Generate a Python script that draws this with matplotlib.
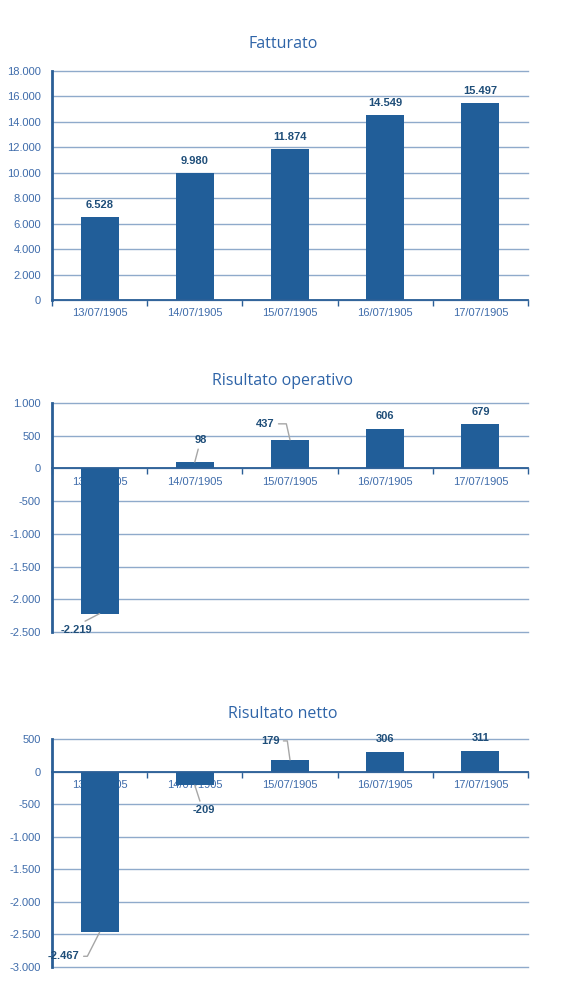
import matplotlib
matplotlib.use("Agg")
import matplotlib.pyplot as plt
from matplotlib.ticker import FuncFormatter, FixedLocator

# data
dates = ['13/07/1905', '14/07/1905', '15/07/1905', '16/07/1905', '17/07/1905']
fatturato = [6528, 9980, 11874, 14549, 15497]
ris_operativo = [-2219, 98, 437, 606, 679]
ris_netto = [-2467, -209, 179, 306, 311]

BAR = '#215E99'
GRID = '#8FAACB'
AXIS = '#2A5E96'
TICK = '#3F6CAB'
LABEL = '#1F4E79'
LEADER = '#A6A6A6'


def it_fmt(v, pos=None):
    s = '{:,.0f}'.format(v).replace(',', '.')
    return s


def draw_chart(ax, values, ylim, step, offsets, leaders):
    x = range(len(values))
    ax.bar(x, values, width=0.4, color=BAR, zorder=2)
    ax.set_xlim(-0.5, len(values) - 0.5)
    ax.set_ylim(*ylim)
    ax.set_axisbelow(True)
    ticks = list(range(ylim[0], ylim[1] + 1, step))
    ax.yaxis.set_major_locator(FixedLocator(ticks))
    ax.yaxis.set_major_formatter(FuncFormatter(it_fmt))
    ax.grid(axis='y', color=GRID, linewidth=1.0)
    for gl in ax.get_ygridlines():
        gl.set_clip_on(False)
    ax.set_xticks(list(x))
    ax.set_xticklabels(dates)
    ax.set_xticks([i - 0.5 for i in range(len(values) + 1)], minor=True)
    ax.tick_params(axis='x', which='major', length=0, pad=6, labelsize=8, labelcolor=TICK)
    ax.tick_params(axis='x', which='minor', length=4, width=1, color=AXIS, direction='out')
    ax.tick_params(axis='y', length=0, pad=8, labelsize=8, labelcolor=TICK)
    for s in ['top', 'right']:
        ax.spines[s].set_visible(False)
    ax.spines['left'].set_color(AXIS)
    ax.spines['left'].set_linewidth(2)
    ax.spines['bottom'].set_color(AXIS)
    ax.spines['bottom'].set_linewidth(1.3)
    ax.spines['bottom'].set_position(('data', 0))
    for lbl in ax.get_yticklabels() + ax.get_xticklabels():
        lbl.set_fontfamily('Liberation Sans')

    for i, v in enumerate(values):
        dx, dy = offsets[i]
        kw = {}
        if leaders[i] is not None:
            relpos, conn = leaders[i]
            kw['arrowprops'] = dict(arrowstyle='-', color=LEADER, lw=1,
                                    shrinkA=1, shrinkB=0, relpos=relpos,
                                    connectionstyle=conn)
        ax.annotate(it_fmt(v), xy=(i, v), xytext=(dx, dy),
                    textcoords='offset pixels', ha='center', va='center',
                    fontsize=8, fontweight='bold', color=LABEL,
                    family='Liberation Sans', zorder=5, **kw)


fig = plt.figure(figsize=(5.79, 10.06), dpi=100)
W, H = 579, 1006


def make_axes(top, bottom):
    return fig.add_axes([52 / W, (H - bottom) / H, 476 / W, (bottom - top) / H])


ax1 = make_axes(71, 300)
ax2 = make_axes(403, 632)
ax3 = make_axes(739, 967)

draw_chart(ax1, fatturato, (0, 18000), 2000,
           [(0, 12)] * 5, [None] * 5)

draw_chart(ax2, ris_operativo, (-2500, 1000), 500,
           [(-23, -16), (6, 22), (-25, 16), (0, 13), (0, 12.5)],
           [((0.5, 0.9), 'arc3'), ((0.4, 0.1), 'arc3'),
            ((1.0, 0.5), 'angle,angleA=0,angleB=103,rad=0'), None, None])

draw_chart(ax3, ris_netto, (-3000, 500), 500,
           [(-36, -24), (9, -25), (-20, 19), (0, 13), (0, 13.5)],
           [((1.0, 0.5), 'angle,angleA=0,angleB=63,rad=0'), ((0.4, 0.9), 'arc3'),
            ((1.0, 0.5), 'angle,angleA=0,angleB=98,rad=0'), None, None])

for title, ypix in [('Fatturato', 44), ('Risultato operativo', 381), ('Risultato netto', 714)]:
    fig.text(283 / W, 1 - ypix / H, title, ha='center', va='center',
             fontsize=11.5, color='#2E64A8', family='Open Sans')

fig.savefig('out.png', dpi=100)
